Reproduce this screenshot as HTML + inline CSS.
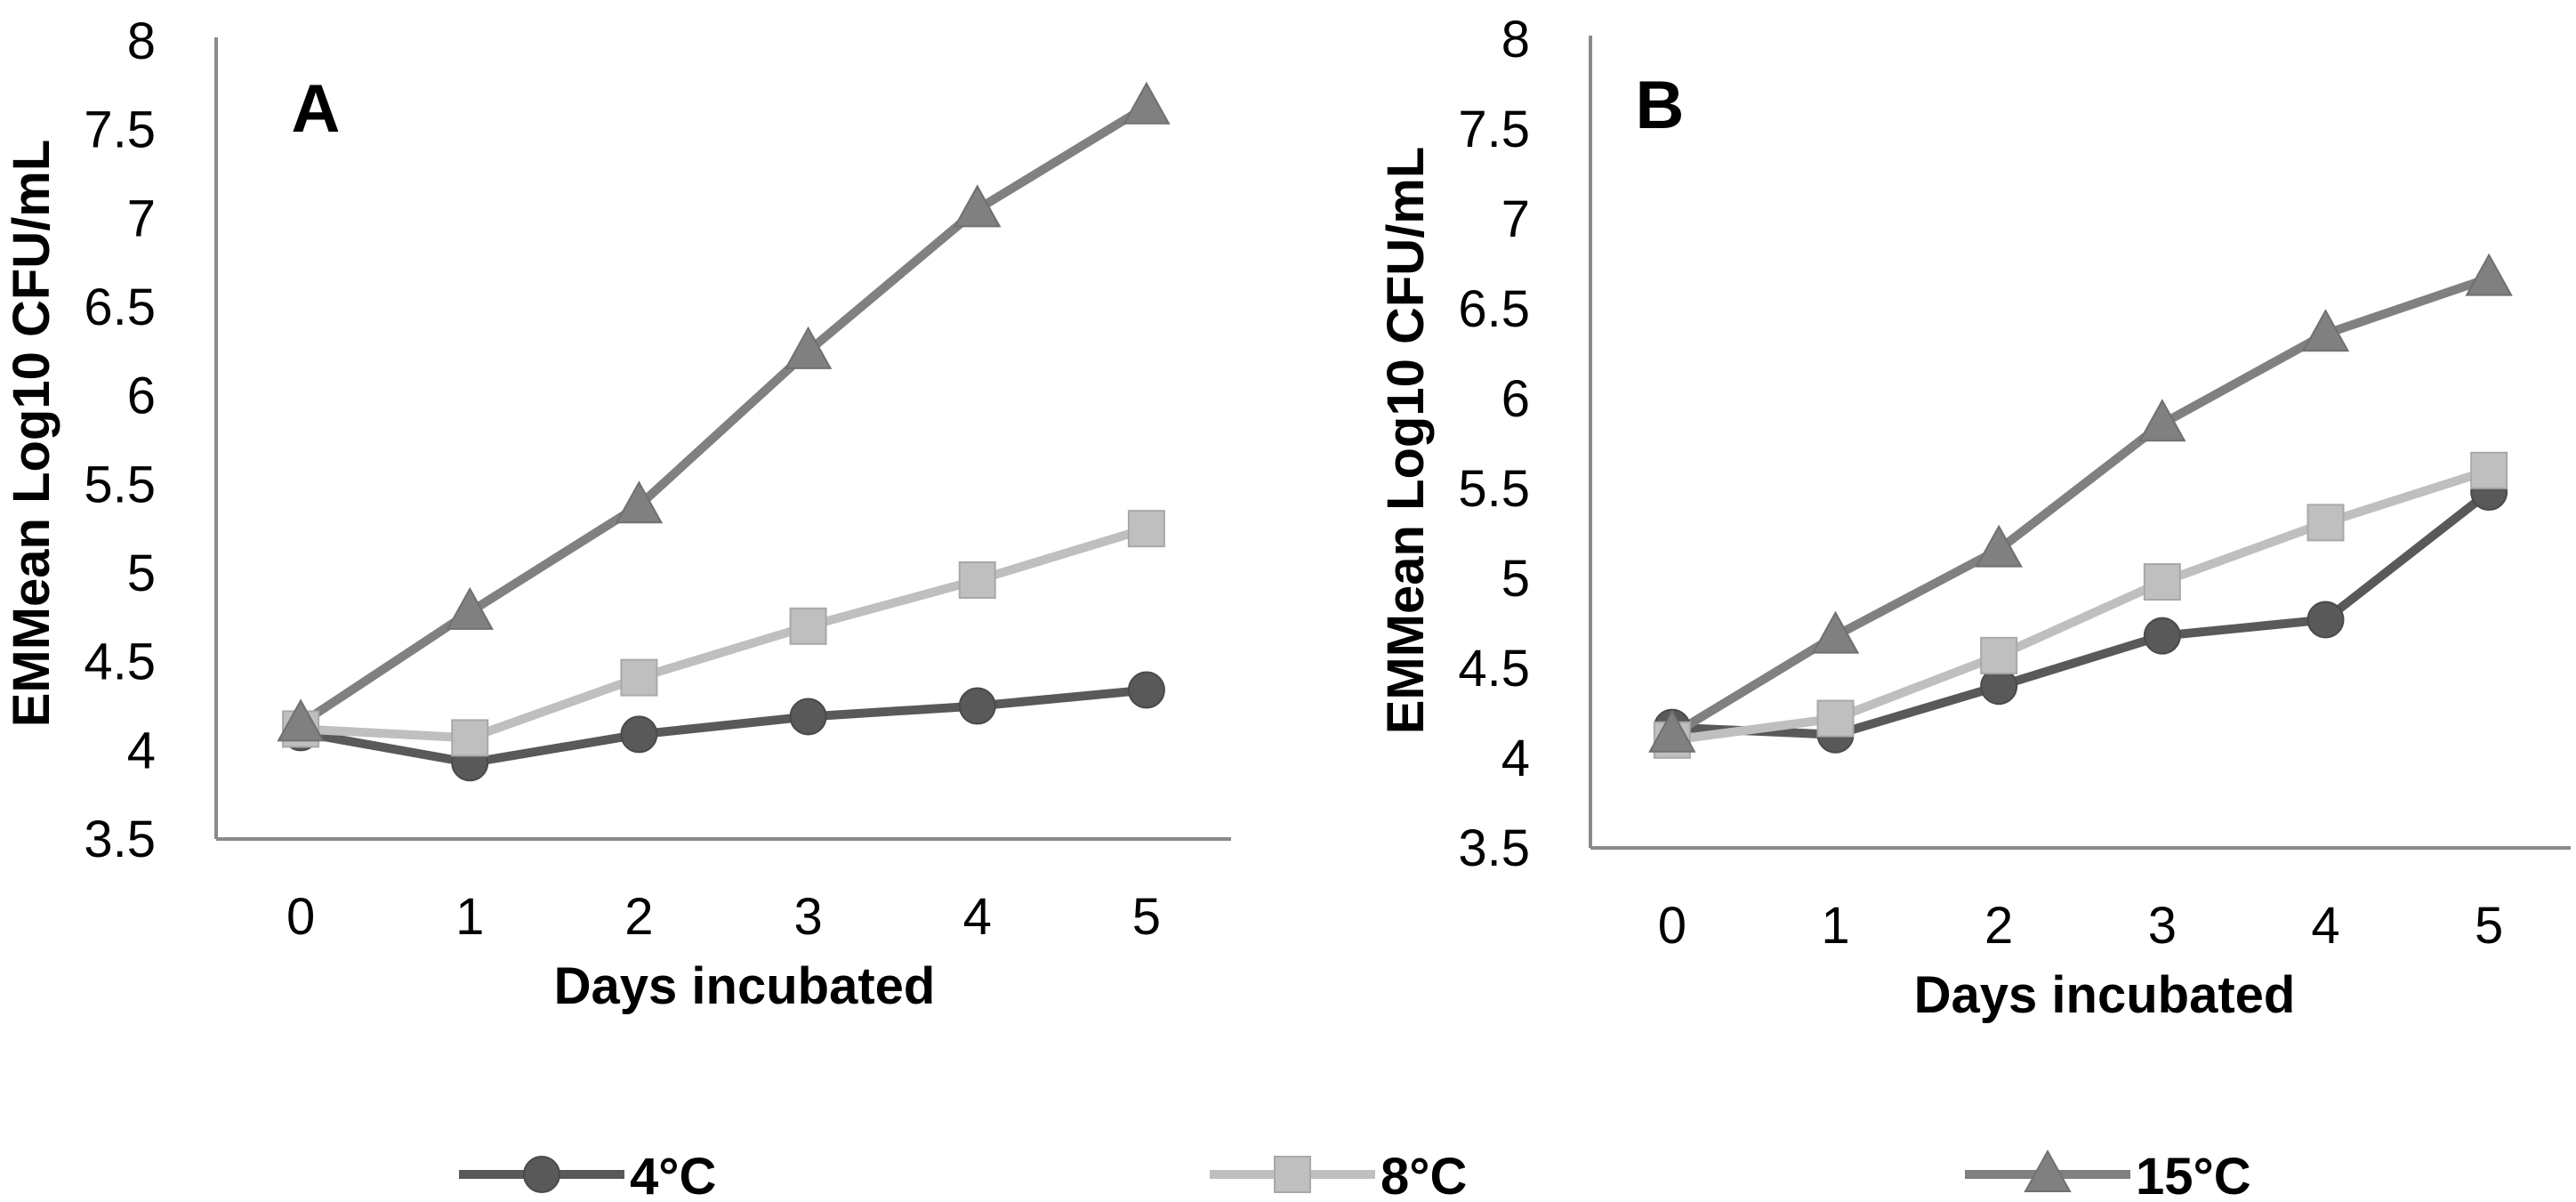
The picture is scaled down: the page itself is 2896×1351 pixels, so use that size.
<!DOCTYPE html>
<html><head><meta charset="utf-8"><style>
html,body{margin:0;padding:0;background:#fff;width:2896px;height:1351px;overflow:hidden}
svg{display:block}
text{font-family:"Liberation Sans Narrow","Liberation Sans",sans-serif}
</style></head><body>
<svg id="chart" width="2896" height="1351" viewBox="0 0 2896 1351" xmlns="http://www.w3.org/2000/svg"></svg>
<script>
const categories = [0, 1, 2, 3, 4, 5];
const yTicks = [3.5, 4, 4.5, 5, 5.5, 6, 6.5, 7, 7.5, 8];
const seriesNames = ["4°C", "8°C", "15°C"];
const a4C = [4.10, 3.93, 4.09, 4.19, 4.25, 4.34];
const a8C = [4.12, 4.07, 4.41, 4.70, 4.96, 5.25];
const a15C = [4.15, 4.78, 5.38, 6.25, 7.05, 7.63];
const b4C = [4.17, 4.13, 4.40, 4.68, 4.77, 5.48];
const b8C = [4.10, 4.22, 4.57, 4.98, 5.31, 5.60];
const b15C = [4.13, 4.68, 5.16, 5.86, 6.36, 6.67];

const NS = "http://www.w3.org/2000/svg";
const svg = document.getElementById("chart");
const colors = ["#595959", "#bfbfbf", "#808080"];
const markerStroke = ["#4a4a4a", "#a8a8a8", "#707070"];
const shapes = ["circle", "square", "triangle"];

function mk(tag, attrs, parent) {
  const e = document.createElementNS(NS, tag);
  for (const k in attrs) e.setAttribute(k, attrs[k]);
  (parent || svg).appendChild(e);
  return e;
}
function marker(g, shape, cx, cy, i) {
  let m;
  if (shape === "circle") m = mk("circle", {cx: cx, cy: cy, r: 20, fill: colors[i], stroke: markerStroke[i], "stroke-width": 2}, g);
  else if (shape === "square") m = mk("rect", {x: cx - 20, y: cy - 20, width: 40, height: 40, fill: colors[i], stroke: markerStroke[i], "stroke-width": 2}, g);
  else m = mk("polygon", {points: (cx) + "," + (cy - 26) + " " + (cx - 25) + "," + (cy + 19) + " " + (cx + 25) + "," + (cy + 19), fill: colors[i], stroke: markerStroke[i], "stroke-width": 2}, g);
  return m;
}

function panel(p) {
  const g = mk("g", {});
  
  
  const yOf = v => p.y0 - (v - 3.5) / 4.5 * (p.y0 - p.y8);
  const step = (p.xr - p.xl) / categories.length;
  const xOf = i => p.xl + step * (i + 0.5);
  // axes
  const ya = mk("line", {x1: p.xl, y1: p.y8 - 4, x2: p.xl, y2: p.y0, stroke: "#8a8a8a", "stroke-width": 4}, g);
  
  
  const xa = mk("line", {x1: p.xl, y1: p.y0, x2: p.xr, y2: p.y0, stroke: "#8a8a8a", "stroke-width": 4}, g);
  
  
  yTicks.forEach(v => {
    const t = mk("text", {x: p.xl - 68, y: yOf(v) + 20, "text-anchor": "end", "font-size": 58, fill: "#000"}, g);
    t.textContent = String(v);
    
    
  });
  categories.forEach((c, i) => {
    const t = mk("text", {x: xOf(i), y: p.y0 + 107, "text-anchor": "middle", "font-size": 58, fill: "#000"}, g);
    t.textContent = String(c);
    
    
  });
  const xt = mk("text", {x: p.xtx, y: p.y0 + 185, "text-anchor": "middle", "font-size": 58, "font-weight": "bold", fill: "#000"}, g);
  xt.textContent = "Days incubated";
  
  
  const yt = mk("text", {x: 0, y: 0, "text-anchor": "middle", "font-size": 58, "font-weight": "bold", fill: "#000", transform: "translate(" + p.ytx + "," + p.yty + ") rotate(-90)"}, g);
  yt.textContent = "EMMean Log10 CFU/mL";
  
  
  const pl = mk("text", {x: p.lx, y: p.ly, "text-anchor": "middle", "font-size": 76, "font-weight": "bold", fill: "#000", "font-family": "Liberation Sans, sans-serif"}, g);
  pl.textContent = p.id;
  
  
  p.series.forEach((vals, si) => {
    const sg = mk("g", {}, g);
    
    
    const pts = vals.map((v, i) => xOf(i) + "," + yOf(v)).join(" ");
    const ln = mk("polyline", {points: pts, fill: "none", stroke: colors[si], "stroke-width": 10, "stroke-linejoin": "round"}, sg);
    
    
  });
  p.series.forEach((vals, si) => {
    vals.forEach((v, i) => {
      const m = marker(g, shapes[si], xOf(i), yOf(v), si);
      
      
    });
  });
}

panel({id: "A", xl: 243, xr: 1384, y0: 943, y8: 46, xtx: 837, ytx: 55, yty: 487, lx: 355, ly: 148, series: [a4C, a8C, a15C]});
panel({id: "B", xl: 1788, xr: 2890, y0: 953, y8: 44, xtx: 2366, ytx: 1600, yty: 495, lx: 1866, ly: 144, series: [b4C, b8C, b15C]});

// legend
const legendX = [516, 1360, 2209];
seriesNames.forEach((n, i) => {
  const lg = mk("g", {});
  
  
  mk("line", {x1: legendX[i], y1: 1320, x2: legendX[i] + 186, y2: 1320, stroke: colors[i], "stroke-width": 10}, lg);
  marker(lg, shapes[i], legendX[i] + 93, 1320, i);
  const t = mk("text", {x: legendX[i] + 192, y: 1342, "font-size": 58, "font-weight": "bold", fill: "#000"}, lg);
  t.textContent = n;
  
  
});
</script>
</body></html>
